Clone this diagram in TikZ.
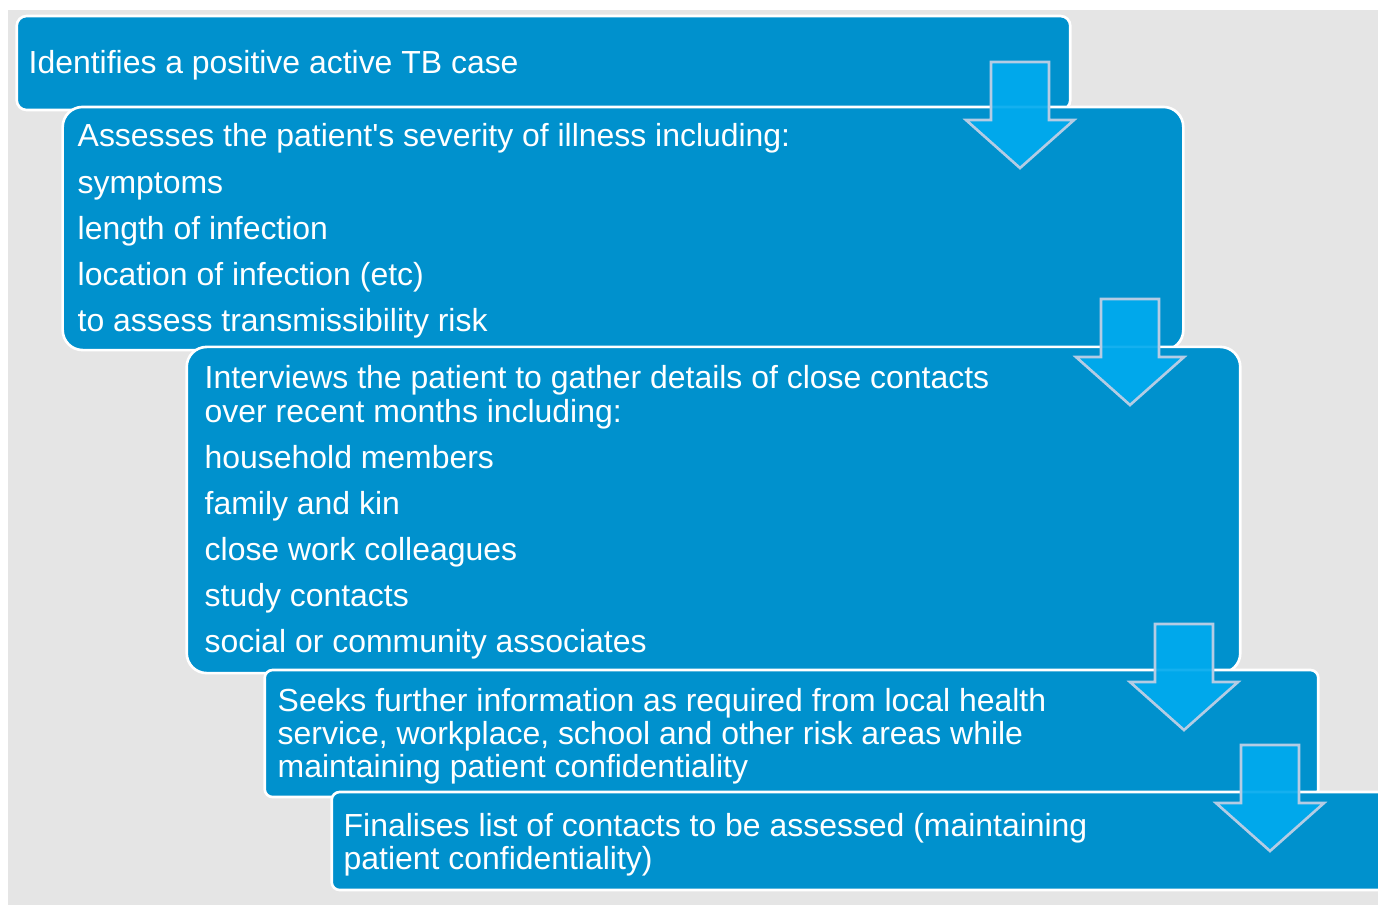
\documentclass[tikz,border=0pt]{standalone}
\usepackage{fontspec}
\setmainfont{Liberation Sans}
\usepackage{tikz}

\definecolor{stepblue}{HTML}{0091CD}
\definecolor{arrowblue}{HTML}{00AAEE}
\definecolor{arrowedge}{HTML}{B4CCE4}
\definecolor{backgray}{HTML}{E5E5E5}

\tikzset{
  stepbox/.style={draw=white, line width=0.75pt, fill=stepblue, inner sep=0pt},
  steptext/.style={anchor=base west, text=white, inner sep=0pt, font=\fontsize{9.08}{10}\selectfont},
  downarrow/.style={fill=arrowblue, fill opacity=0.92, draw=arrowedge, line width=0.75pt}
}

\begin{document}
\begin{tikzpicture}[x=0.01cm, y=-0.01cm]

\useasboundingbox (0,0) rectangle (1378,905);
\fill[backgray] (8,10) rectangle (1378,905);

% the five steps
\node [stepbox, rounded corners=0.1cm, minimum width=10.53cm, minimum height=0.94cm] (b1) at (543.5,63) {};
\node [stepbox, rounded corners=0.2cm, minimum width=11.20cm, minimum height=2.43cm] (b2) at (623,228.5) {};
\node [stepbox, rounded corners=0.2cm, minimum width=10.53cm, minimum height=3.26cm] (b3) at (713.5,510) {};
\node [stepbox, rounded corners=0.08cm, minimum width=10.53cm, minimum height=1.27cm] (b4) at (791.5,733.5) {};
\node [stepbox, rounded corners=0.08cm, minimum width=10.70cm, minimum height=0.98cm] (b5) at (867,841) {};

\node [steptext] (t1) at (28,73) {Identifies a positive active TB case};

\foreach \y/\txt [count=\i] in {146/{Assesses the patient\textquotesingle s severity of illness including:},
    193/symptoms, 239/length of infection, 285/location of infection (etc),
    331/to assess transmissibility risk}{
  \node [steptext] (t2\i) at (77,\y) {\txt};
}

\foreach \y/\txt [count=\i] in {388/{Interviews the patient to gather details of close contacts},
    422/{over recent months including:}, 468/household members, 514/family and kin,
    560/close work colleagues, 606/study contacts, 652/social or community associates}{
  \node [steptext] (t3\i) at (204,\y) {\txt};
}

\foreach \y/\txt [count=\i] in {711/{Seeks further information as required from local health},
    744/{service, workplace, school and other risk areas while},
    777/maintaining patient confidentiality}{
  \node [steptext] (t4\i) at (277,\y) {\txt};
}

\foreach \y/\txt [count=\i] in {836/{Finalises list of contacts to be assessed (maintaining},
    869/patient confidentiality)}{
  \node [steptext] (t5\i) at (343,\y) {\txt};
}

% block arrows between the steps
\foreach \ax/\ay in {1020/62, 1130/299, 1184/624, 1270/745}{
  \draw [downarrow] (\ax-29,\ay) -- (\ax+29,\ay) -- (\ax+29,\ay+58) -- (\ax+54,\ay+58)
    -- (\ax,\ay+106) -- (\ax-54,\ay+58) -- (\ax-29,\ay+58) -- cycle;
}

\end{tikzpicture}
\end{document}
